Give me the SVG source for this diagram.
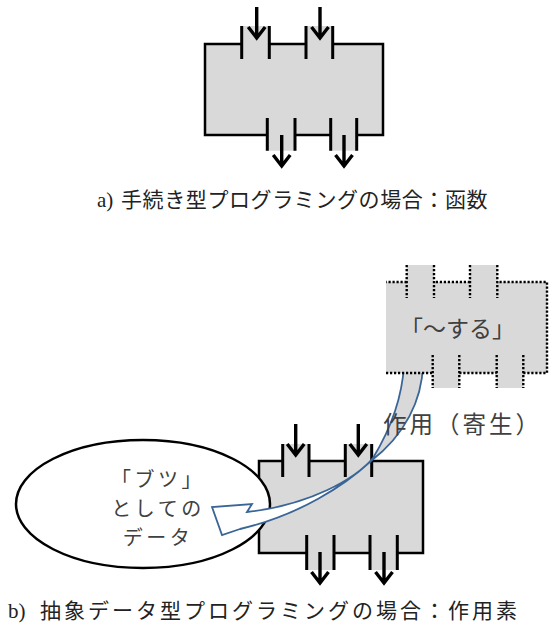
<svg xmlns="http://www.w3.org/2000/svg" width="558" height="630" viewBox="0 0 558 630">
<style>
.fill{fill:#d9d9d9;stroke:none}
.edge{fill:none;stroke:#000;stroke-width:2.5}
.port{fill:none;stroke:#000;stroke-width:3}
.dot{fill:none;stroke:#000;stroke-width:2.4;stroke-dasharray:2.2 1.8}
.jp{font-family:"Noto Sans CJK JP","Noto Sans",sans-serif;fill:#404040}
.cap{font-family:"Noto Sans CJK JP","Noto Sans",sans-serif;fill:#222;font-size:21px}
.lat{font-family:"Liberation Serif",serif;fill:#222;font-size:21px}
.band{fill:none;stroke:#3a6597;stroke-width:1.8;stroke-linejoin:miter}
</style>
<defs>
<path id="arr" d="M0,-33 V-3 M-8.5,-13 L0,-2 L8.5,-13" fill="none" stroke="#000" stroke-width="3.4" stroke-linejoin="miter"/>
</defs>

<g id="function-a">
<rect class="fill" x="205" y="44" width="178" height="91"/>
<rect class="fill" x="241.7" y="26" width="27.6" height="18"/>
<rect class="fill" x="306" y="26" width="26.7" height="18"/>
<rect class="fill" x="267.3" y="135" width="27.7" height="15.7"/>
<rect class="fill" x="330.7" y="135" width="26" height="15.7"/>
<path class="edge" d="M241.7,44 H205 V135 H267.3 M295,135 H330.7 M356.7,135 H383 V44 H332.7 M306,44 H269.3"/>
<path class="port" d="M241.7,26 V59 M269.3,26 V59 M306,26 V59 M332.7,26 V59 M267.3,118 V150.7 M295,118 V150.7 M330.7,118 V150.7 M356.7,118 V150.7"/>
<use href="#arr" x="256.7" y="40"/>
<use href="#arr" x="320" y="40"/>
<use href="#arr" x="281.7" y="168"/>
<use href="#arr" x="344" y="168"/>
</g>

<g id="caption-a">
<text class="lat" x="97" y="207">a)</text>
<text class="cap" x="121" y="207" letter-spacing="0.6">手続き型プログラミングの場合：函数</text>
</g>

<g id="operator-b">
<rect class="fill" x="259" y="461" width="164" height="92"/>
<rect class="fill" x="282.7" y="444" width="26.3" height="17"/>
<rect class="fill" x="345.3" y="444" width="26.4" height="17"/>
<rect class="fill" x="306.7" y="553" width="27.3" height="17"/>
<rect class="fill" x="370" y="553" width="27.3" height="17"/>
<path class="edge" d="M282.7,461 H259 V553 H306.7 M334,553 H370 M397.3,553 H423 V461 H371.7 M345.3,461 H309"/>
<path class="port" d="M282.7,444 V477 M309,444 V477 M345.3,444 V477 M371.7,444 V477 M306.7,535 V570 M334,535 V570 M370,535 V570 M397.3,535 V570"/>
<use href="#arr" x="295.7" y="457"/>
<use href="#arr" x="358.3" y="457"/>
<use href="#arr" x="320" y="585"/>
<use href="#arr" x="384" y="585"/>
</g>

<g id="data-ellipse">
<ellipse cx="143" cy="504" rx="127" ry="64" fill="#fff" stroke="#000" stroke-width="2.5"/>
<text class="jp" font-size="20" letter-spacing="3.5" text-anchor="middle" x="158" y="487">「ブツ」</text>
<text class="jp" font-size="20" letter-spacing="3.5" text-anchor="middle" x="158" y="516">としての</text>
<text class="jp" font-size="20" letter-spacing="3.5" text-anchor="middle" x="158" y="545">データ</text>
</g>

<g id="connectors">
<path d="M404,365 C402,400 390,430 373,458 C355,479 310,505 247,512 L252,504 L212,507 L222,535 L240,529 C300,515 345,485 371,461 C405,435 422,400 423,365 Z" fill="#fff" stroke="none"/>
<path d="M404,365 C402,400 390,430 373,458 L371,461 C405,435 422,400 423,365 Z" fill="#d9d9d9" stroke="none"/>
<path class="band" d="M404,365 C402,400 390,430 373,458 C355,479 310,505 247,512 L252,504 L212,507 L222,535 L240,529 C300,515 345,485 371,461 C405,435 422,400 423,365"/>
</g>

<g id="operator-dotted">
<rect class="fill" x="386" y="282" width="161" height="91"/>
<rect class="fill" x="406.7" y="265" width="27.3" height="17"/>
<rect class="fill" x="470" y="265" width="27.3" height="17"/>
<rect class="fill" x="432.7" y="373" width="26.6" height="15"/>
<rect class="fill" x="496.7" y="373" width="26.6" height="15"/>
<path class="dot" d="M406.7,282 H386 M386,373 H432.7 M459.3,373 H496.7 M523.3,373 H547 V282 H497.3 M470,282 H434"/>
<path class="dot" d="M406.7,265 V298 M434,265 V298 M470,265 V298 M497.3,265 V298 M432.7,355 V388 M459.3,355 V388 M496.7,355 V388 M523.3,355 V388"/>
<text class="jp" font-size="23" text-anchor="middle" x="457.5" y="337">「～する」</text>
</g>

<g id="label-parasite">
<text class="jp" font-size="23.5" letter-spacing="3" x="383" y="433">作用（寄生）</text>
</g>

<g id="caption-b">
<text class="lat" x="8" y="618">b)</text>
<text class="cap" x="40" y="618" letter-spacing="3">抽象データ型プログラミングの場合：作用素</text>
</g>
</svg>
